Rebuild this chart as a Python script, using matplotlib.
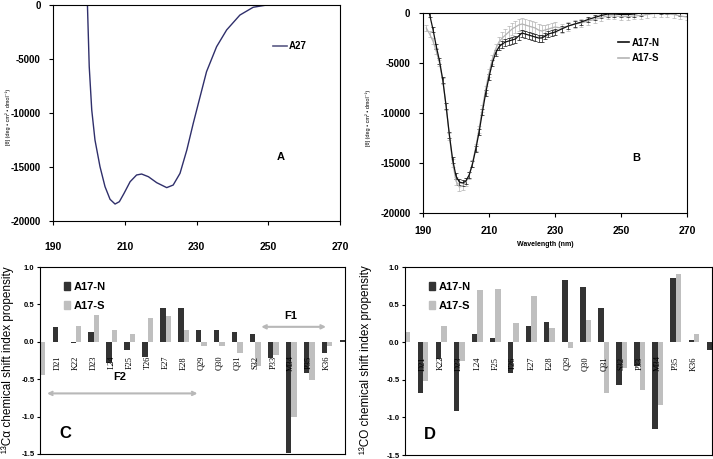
import matplotlib
matplotlib.use("Agg")
import matplotlib.pyplot as plt
import numpy as np
from matplotlib.lines import Line2D
from matplotlib.patches import Patch

plt.rcParams['font.family'] = ['Liberation Sans', 'DejaVu Sans']

# ---------------- data ----------------
# Panel A: CD spectrum of A27
A_wl = [199.6, 200.1, 200.8, 201.7, 203.1, 204.5, 205.9, 207.3, 208.5, 209.8,
        211.5, 213.3, 214.7, 216.6, 218.9, 221.7, 223.5, 225.4, 227.3, 229.1,
        231.0, 232.8, 235.6, 238.4, 242.1, 245.8, 249.6, 255.0, 260.0]
A_val = [0, -5710, -9720, -12500, -14970, -16820, -17990, -18430, -18210, -17440,
         -16360, -15740, -15650, -15900, -16450, -16910, -16670, -15590, -13430, -10950,
         -8490, -6170, -3860, -2310, -930, -210, 0, 0, 0]

# Panel B: CD spectra of A17-N and A17-S
wl_B = [191, 192, 193, 194, 195, 196, 197, 198, 199, 200,
        201, 202, 203, 204, 205, 206, 207, 208, 209, 210,
        211, 212, 213, 214, 215, 216, 217, 218, 219, 220,
        221, 222, 223, 224, 225, 226, 227, 228, 229, 230,
        232, 234, 236, 238, 240, 242, 244, 246, 248, 250,
        252, 254, 256, 258, 260, 262, 264, 266, 268, 270]
N_B = [1300, -150, -1600, -3300, -4800, -6700, -9300, -12200, -14700, -16300,
       -16900, -17000, -16800, -16200, -15100, -13600, -11900, -9900, -8000, -6400,
       -5000, -4000, -3400, -3100, -2900, -2800, -2700, -2600, -2300, -2000,
       -2100, -2200, -2300, -2400, -2500, -2500, -2300, -2100, -2000, -1900,
       -1600, -1300, -1100, -900, -650, -450, -250, -100, -100, -150,
       -150, -100, 0, 150, 250, 200, 150, 150, 0, 0]
N_err = [200, 200, 250, 250, 300, 300, 300, 300, 300, 300,
         300, 300, 300, 300, 300, 300, 300, 300, 300, 300,
         300, 300, 300, 350, 350, 350, 350, 350, 350, 350,
         350, 350, 350, 350, 350, 350, 300, 300, 300, 300,
         300, 300, 300, 250, 250, 250, 250, 250, 250, 250,
         250, 250, 250, 250, 250, 250, 250, 250, 250, 250]
S_B = [-1500, -2100, -2800, -3800, -5000, -6800, -9300, -12300, -15000, -16800,
       -17400, -17300, -16900, -16200, -15000, -13400, -11600, -9500, -7600, -6000,
       -4600, -3600, -2900, -2500, -2200, -1900, -1600, -1400, -1200, -1100,
       -1200, -1300, -1400, -1500, -1700, -1800, -1700, -1600, -1500, -1400,
       -1500, -1300, -1100, -1000, -800, -650, -450, -300, -300, -350,
       -350, -300, -250, -150, -50, -50, -100, -150, -300, -400]
S_err = [300, 300, 300, 300, 300, 300, 350, 350, 400, 400,
         400, 400, 400, 350, 350, 350, 350, 350, 350, 400,
         450, 500, 550, 600, 600, 600, 600, 600, 600, 600,
         600, 600, 600, 600, 600, 600, 550, 550, 500, 500,
         450, 450, 400, 400, 350, 350, 350, 300, 300, 300,
         300, 300, 300, 300, 300, 300, 300, 300, 300, 300]

# Panels C, D: chemical shift index propensity
residues = ["", "D21", "K22", "D23", "L24", "F25", "T26", "E27", "E28",
            "Q29", "Q30", "Q31", "S32", "P33", "M34", "P35", "K36", ""]
nan = np.nan
C_N = [nan, 0.20, -0.01, 0.13, -0.28, -0.11, -0.20, 0.45, 0.45,
       0.155, 0.155, 0.13, 0.10, -0.21, -1.49, -0.42, -0.15, 0.02]
C_S = [-0.44, 0.0, 0.21, 0.36, 0.16, 0.11, 0.32, 0.35, 0.16,
       -0.06, -0.06, -0.15, -0.32, -0.17, -1.01, -0.51, -0.06, nan]
D_N = [nan, -0.67, -0.23, -0.91, 0.11, 0.05, -0.41, 0.21, 0.27,
       0.83, 0.73, 0.45, -0.57, -0.31, -1.15, 0.86, 0.03, -0.10]
D_S = [0.14, -0.51, 0.22, -0.25, 0.70, 0.71, 0.25, 0.62, 0.19,
       -0.08, 0.30, -0.67, -0.34, -0.63, -0.84, 0.91, 0.11, nan]

cd_ticks_x = [190, 210, 230, 250, 270]
cd_ticks_y = [0, -5000, -10000, -15000, -20000]
csi_ticks = [1.0, 0.5, 0.0, -0.5, -1.0, -1.5]

# ---------------- figure ----------------
W, H = 713, 459
fig = plt.figure(figsize=(W / 100, H / 100), dpi=100)


def px_axes(l, t, r, b):
    return fig.add_axes([l / W, 1 - b / H, (r - l) / W, (b - t) / H])


axA = px_axes(53, 5, 340, 221)
axB = px_axes(423, 13, 687, 213)
axC = px_axes(40, 267, 345, 454)
axD = px_axes(405, 267, 712, 455)

for ax in (axA, axB, axC, axD):
    for s in ax.spines.values():
        s.set_linewidth(0.8)
    ax.tick_params(direction='out', length=3, width=0.8)

bold = dict(fontweight='bold')

# ---- Panel A ----
axA.plot(A_wl, A_val, color='#2f2f6b', lw=1.0)
axA.set_xlim(190, 270)
axA.set_ylim(-20000, 0)
axA.set_xticks(cd_ticks_x)
axA.set_yticks(cd_ticks_y)
axA.set_xticklabels([str(v) for v in cd_ticks_x], fontsize=7.5, **bold)
axA.set_yticklabels([str(v) for v in cd_ticks_y], fontsize=7, **bold)
axA.tick_params(axis='x', pad=12)
axA.tick_params(axis='y', pad=6)
axA.legend([Line2D([], [], color='#5a5a85', lw=1.2)], ['A27'],
           loc='center left', bbox_to_anchor=(0.75, 0.81), frameon=False,
           borderpad=0, handlelength=1.4, handletextpad=0.2,
           prop=dict(size=7, weight='bold'))
axA.text(0.794, 0.296, 'A', transform=axA.transAxes, fontsize=8, ha='center',
         va='center', **bold)
fig.text(8 / W, 1 - 117 / H, '[θ] (deg • cm² • dmol⁻¹)', rotation=90,
         fontsize=4, ha='center', va='center')

# ---- Panel B ----
axB.errorbar(wl_B, S_B, yerr=S_err, color='#b4b4b4', lw=0.9, elinewidth=0.5,
             capsize=1.3, capthick=0.5, label='A17-S')
axB.errorbar(wl_B, N_B, yerr=N_err, color='#111111', lw=0.9, elinewidth=0.5,
             capsize=1.3, capthick=0.5, label='A17-N')
axB.set_xlim(190, 270)
axB.set_ylim(-20000, 0)
axB.set_xticks(cd_ticks_x)
axB.set_yticks(cd_ticks_y)
axB.set_xticklabels([str(v) for v in cd_ticks_x], fontsize=7.5, **bold)
axB.set_yticklabels([str(v) for v in cd_ticks_y], fontsize=7, **bold)
axB.tick_params(axis='x', pad=6)
axB.tick_params(axis='y', pad=6)
axB.legend([Line2D([], [], color='#111111', lw=1.2),
            Line2D([], [], color='#b4b4b4', lw=1.2)], ['A17-N', 'A17-S'],
           loc='upper left', bbox_to_anchor=(0.72, 0.9), frameon=False,
           borderpad=0, handlelength=1.1, handletextpad=0.3, labelspacing=0.55,
           prop=dict(size=7, weight='bold'))
axB.text(0.807, 0.275, 'B', transform=axB.transAxes, fontsize=8, ha='center',
         va='center', **bold)
fig.text(368 / W, 1 - 118 / H, '[θ] (deg • cm² • dmol⁻¹)', rotation=90,
         fontsize=4, ha='center', va='center')
fig.text(545 / W, 1 - 244 / H, 'Wavelength (nm)', fontsize=5, ha='center',
         va='center', **bold)

# ---- Panels C, D ----
idx = np.arange(len(residues))
dark, light = '#333333', '#bfbfbf'
for ax, vN, vS, letter in ((axC, C_N, C_S, 'C'), (axD, D_N, D_S, 'D')):
    ax.bar(idx - 0.15, vN, width=0.3, color=dark, label='A17-N')
    ax.bar(idx + 0.15, vS, width=0.3, color=light, label='A17-S')
    ax.set_xlim(0, 17)
    ax.set_ylim(-1.5, 1.0)
    ax.set_xticks([])
    ax.set_yticks(csi_ticks)
    ax.set_yticklabels(['%.1f' % v for v in csi_ticks], fontsize=5.5, **bold)
    ax.tick_params(axis='y', length=2, pad=2)
    for i, lab in enumerate(residues):
        if lab:
            ax.text(i, -0.28, lab, rotation=90, ha='center', va='center',
                    fontsize=6, family=['Liberation Serif', 'DejaVu Serif'])
    ax.legend([Patch(color=dark), Patch(color=light)], ['A17-N', 'A17-S'],
              loc='upper left', bbox_to_anchor=(0.06, 0.95), frameon=False,
              borderpad=0, handlelength=0.55, handleheight=0.75,
              handletextpad=0.3, labelspacing=0.8,
              prop=dict(size=8, weight='bold'))
    ax.text(1.39, -1.23, letter, fontsize=12, ha='center', va='center', **bold)

arrow_kw = dict(arrowstyle='<->', color='#b8b8b8', lw=1.5, mutation_scale=6,
                shrinkA=0, shrinkB=0)
axC.annotate('', xy=(0.39, -0.69), xytext=(8.78, -0.69), arrowprops=arrow_kw)
axC.text(4.44, -0.47, 'F2', fontsize=8, ha='center', va='center', **bold)
axC.annotate('', xy=(12.33, 0.2), xytext=(15.94, 0.2), arrowprops=arrow_kw)
axC.text(14.0, 0.34, 'F1', fontsize=8, ha='center', va='center', **bold)

fig.text(8 / W, 1 - 360 / H, '¹³Cα chemical shift index propensity',
         rotation=90, fontsize=8.5, ha='center', va='center')
fig.text(366 / W, 1 - 360 / H, '¹³CO chemical shift index propensity',
         rotation=90, fontsize=8.5, ha='center', va='center')

fig.savefig('out.png', dpi=100)
